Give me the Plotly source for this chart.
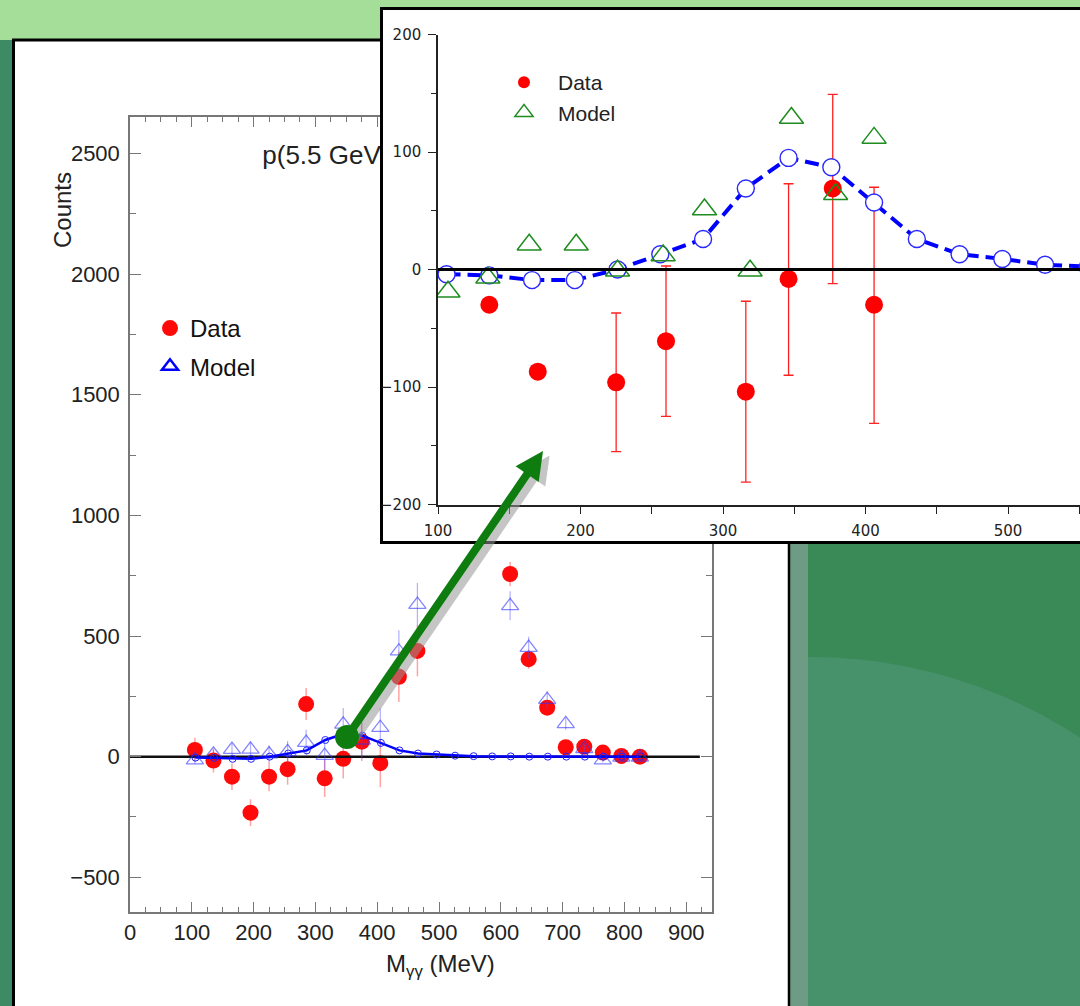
import plotly.graph_objects as go

W, H = 1080, 1006


def px(x):
    return x / W


def py(y):
    return 1 - y / H


# ---------------- main plot data (counts vs M_gg) ----------------
DATA_M = [105, 135, 165, 195, 225, 255, 285, 315, 345, 375, 405, 435, 465,
          615, 645, 675, 705, 735, 765, 795, 825]
DATA_C = [28, -16, -83, -232, -83, -52, 218, -90, -9, 62, -27, 331, 438,
          757, 404, 203, 39, 41, 17, 3, 0]
DATA_ERR = [50, 50, 55, 55, 60, 64, 66, 77, 82, 80, 100, 105, 105,
            50, 40, 30, 22, 20, 15, 10, 10]

MODEL_M = [105, 135, 165, 195, 225, 255, 285, 315, 345, 375, 405, 435, 465,
           615, 645, 675, 705, 735, 765, 795, 825]
MODEL_C = [-14, 10, 29, 30, 11, 20, 58, 4, 134, 68, 120, 437, 630,
           625, 452, 236, 136, 32, -14, -3, -3]
MODEL_ERR = [15, 20, 25, 30, 35, 45, 53, 60, 68, 75, 82, 87, 90,
             60, 45, 35, 25, 20, 10, 10, 10]

CURVE_M = [106, 136, 166, 196, 226, 256, 286, 316, 346, 376, 406, 436, 466,
           496, 526, 556, 586, 616, 646, 676, 706, 736, 766, 796, 826]
CURVE_C = [-4, -5, -9, -9, 0, 13, 26, 69, 95, 87, 57, 26, 13,
           9, 4, 2, 1, 1, 0, 0, 0, 0, 0, 0, 0]

ZERO_MAIN_X = [0, 922]
ZERO_INSET_X = [100, 560]
ZERO_Y = [0, 0]

# ---------------- inset data ----------------
IN_DATA_M = [136, 170, 225, 260, 316, 346, 377, 406]
IN_DATA_C = [-30, -87, -96, -61, -104, -8, 69, -30]
IN_ERR_PLUS = [0, 0, 59, 64, 77, 81, 80, 100]
IN_ERR_MINUS = [0, 0, 59, 64, 77, 82, 81, 101]

IN_MODEL_M = [107, 135, 164, 197, 226, 258, 287, 319, 348, 379, 406]
IN_MODEL_C = [-19, -7, 21, 21, -1, 12, 51, -1, 129, 64, 112]

MAIN_XTICKS = [0, 100, 200, 300, 400, 500, 600, 700, 800, 900]
MAIN_YTICKS = [-500, 0, 500, 1000, 1500, 2000, 2500]
IN_XTICKS = [100, 200, 300, 400, 500]
IN_YTICKS = [-200, -100, 0, 100, 200]

TITLE_TEXT = "p(5.5 GeV)"
TITLE_POS = ([214], [2481])

FONT = "Liberation Sans, Arial, sans-serif"

fig = go.Figure()

# ---------- main plot traces ----------
fig.add_trace(go.Scatter(
    x=TITLE_POS[0], y=TITLE_POS[1], mode="text", text=[TITLE_TEXT],
    textposition="middle right", textfont=dict(size=26, color="#222", family=FONT),
    showlegend=False, hoverinfo="skip", cliponaxis=False))
fig.add_trace(go.Scatter(
    x=DATA_M, y=DATA_C, mode="markers",
    marker=dict(color="#ff0a0a", size=16, line=dict(width=0)),
    error_y=dict(type="data", array=DATA_ERR, color="rgba(255,90,90,0.55)",
                 thickness=1.5, width=0),
    showlegend=False))
fig.add_trace(go.Scatter(
    x=ZERO_MAIN_X, y=ZERO_Y, mode="lines",
    line=dict(color="#111", width=2.5), showlegend=False, hoverinfo="skip"))
fig.add_trace(go.Scatter(
    x=MODEL_M, y=MODEL_C, mode="markers",
    marker=dict(symbol="triangle-up-open", color="rgba(50,50,255,0.6)", size=15,
                line=dict(width=1.3)),
    error_y=dict(type="data", array=MODEL_ERR, color="rgba(80,80,255,0.45)",
                 thickness=1.2, width=0),
    showlegend=False))
fig.add_trace(go.Scatter(
    x=CURVE_M, y=CURVE_C, mode="lines+markers",
    line=dict(color="#0000ff", width=2.5),
    marker=dict(symbol="circle-open", color="#2222ff", size=7, line=dict(width=1)),
    showlegend=False))

# ---------- panel subplot (x2/y2): white box with black frame ----------
fig.add_trace(go.Scatter(x=[None], y=[None], xaxis="x2", yaxis="y2",
                         showlegend=False, hoverinfo="skip"))

# ---------- inset traces ----------
fig.add_trace(go.Scatter(
    x=IN_DATA_M, y=IN_DATA_C, xaxis="x3", yaxis="y3", mode="markers",
    marker=dict(color="#ff0000", size=18),
    error_y=dict(type="data", symmetric=False, array=IN_ERR_PLUS,
                 arrayminus=IN_ERR_MINUS, color="#ff2020", thickness=1.3, width=5),
    showlegend=False))
fig.add_trace(go.Scatter(
    x=CURVE_M, y=CURVE_C, xaxis="x3", yaxis="y3", mode="lines+markers",
    line=dict(color="#0000ff", width=4, dash="14px,7px"),
    marker=dict(symbol="circle", color="white", size=17,
                line=dict(color="#2a2aff", width=1.4)),
    showlegend=False))
fig.add_trace(go.Scatter(
    x=IN_MODEL_M, y=IN_MODEL_C, xaxis="x3", yaxis="y3", mode="markers",
    marker=dict(symbol="triangle-up-open", color="#1e8c1e", size=21,
                line=dict(width=1.5)),
    showlegend=False))
fig.add_trace(go.Scatter(
    x=ZERO_INSET_X, y=ZERO_Y, xaxis="x3", yaxis="y3", mode="lines",
    line=dict(color="#000", width=3), showlegend=False, hoverinfo="skip"))

# ---------- legend entries ----------
fig.add_trace(go.Scatter(x=[None], y=[None], mode="markers", name="Data",
                         marker=dict(color="#ff0a0a", size=16), legend="legend",
                         legendgroup="a"))
fig.add_trace(go.Scatter(x=[None], y=[None], mode="markers", name="Model",
                         marker=dict(symbol="triangle-up-open", color="#0000ff", size=14,
                                     line=dict(width=2.5)),
                         legend="legend", legendgroup="b"))
fig.add_trace(go.Scatter(x=[None], y=[None], mode="markers", name="Data",
                         marker=dict(color="#ff0000", size=12), legend="legend2"))
fig.add_trace(go.Scatter(x=[None], y=[None], mode="markers", name="Model",
                         marker=dict(symbol="triangle-up-open", color="#1e8c1e", size=16,
                                     line=dict(width=1.4)),
                         legend="legend2"))

# ---------- background / decoration shapes ----------
shapes = [
    dict(type="rect", xref="paper", yref="paper", layer="below",
         x0=0, x1=1, y0=py(42), y1=1, fillcolor="#a4de98", line_width=0),
    dict(type="rect", xref="paper", yref="paper", layer="below",
         x0=0, x1=px(14), y0=0, y1=py(40), fillcolor="#3c8b64", line_width=0),
    dict(type="circle", xref="paper", yref="paper", layer="below",
         x0=px(317), x1=px(1303), y0=py(1643), y1=py(657),
         fillcolor="#47916b", line_width=0),
    dict(type="rect", xref="paper", yref="paper", layer="below",
         x0=px(789), x1=px(808), y0=0, y1=py(40), fillcolor="#6e9b83", line_width=0),
    dict(type="rect", xref="paper", yref="paper", layer="below",
         x0=px(14), x1=px(789), y0=0, y1=py(40), fillcolor="white", line_width=0),
    dict(type="line", xref="paper", yref="paper", layer="below",
         x0=px(13.5), x1=px(13.5), y0=0, y1=py(39), line=dict(color="black", width=3)),
    dict(type="line", xref="paper", yref="paper", layer="below",
         x0=px(12), x1=px(790), y0=py(40), y1=py(40), line=dict(color="black", width=3)),
    dict(type="line", xref="paper", yref="paper", layer="below",
         x0=px(789), x1=px(789), y0=0, y1=py(39), line=dict(color="black", width=2.5)),
]

# arrow
S = (347, 737)
T = (543, 451)
dx, dy = T[0] - S[0], T[1] - S[1]
L = (dx ** 2 + dy ** 2) ** 0.5
ux, uy = dx / L, dy / L
nx, ny = -uy, ux  # perpendicular (points to lower right)
HEAD_L, HEAD_W = 28, 14
B = (T[0] - HEAD_L * ux, T[1] - HEAD_L * uy)


def head_path(off):
    ox, oy = off
    c1 = (B[0] + HEAD_W * nx + ox, B[1] + HEAD_W * ny + oy)
    c2 = (B[0] - HEAD_W * nx + ox, B[1] - HEAD_W * ny + oy)
    t = (T[0] + ox, T[1] + oy)
    return "M {} {} L {} {} L {} {} Z".format(px(t[0]), py(t[1]), px(c1[0]), py(c1[1]),
                                             px(c2[0]), py(c2[1]))


SH = (8 * nx, 8 * ny)
shapes += [
    dict(type="line", xref="paper", yref="paper", layer="above",
         x0=px(S[0] + SH[0]), y0=py(S[1] + SH[1]), x1=px(B[0] + SH[0] + 4 * ux),
         y1=py(B[1] + SH[1] + 4 * uy), line=dict(color="rgba(150,150,150,0.55)", width=8)),
    dict(type="path", xref="paper", yref="paper", layer="above", path=head_path(SH),
         fillcolor="rgba(150,150,150,0.55)", line_width=0),
    dict(type="line", xref="paper", yref="paper", layer="above",
         x0=px(S[0]), y0=py(S[1]), x1=px(B[0] + 4 * ux), y1=py(B[1] + 4 * uy),
         line=dict(color="#0e7c0e", width=8)),
    dict(type="path", xref="paper", yref="paper", layer="above", path=head_path((0, 0)),
         fillcolor="#0e7c0e", line_width=0),
    dict(type="circle", xref="paper", yref="paper", layer="above",
         x0=px(S[0] - 12), x1=px(S[0] + 12), y0=py(S[1] + 12), y1=py(S[1] - 12),
         fillcolor="#0e7c0e", line_width=0),
]

main_axis_common = dict(showgrid=False, zeroline=False, showline=True, linecolor="#777",
                        linewidth=1.5, ticks="inside", ticklen=11, tickwidth=1.2,
                        tickcolor="#777", mirror="allticks", automargin=False,
                        tickfont=dict(family=FONT, size=22, color="#222"))

fig.update_layout(
    width=W, height=H, autosize=False,
    margin=dict(l=0, r=0, t=0, b=0, pad=0, autoexpand=False),
    paper_bgcolor="#3a8a58", plot_bgcolor="white",
    xaxis=dict(domain=[px(130), px(711.6)], range=[0, 941], anchor="y",
               tickvals=MAIN_XTICKS, ticklabelstandoff=0,
               minor=dict(dtick=25, ticklen=6, ticks="inside", tickcolor="#777"),
               **main_axis_common),
    yaxis=dict(domain=[py(912.3), py(116.7)], range=[-645, 2652], anchor="x",
               tickvals=MAIN_YTICKS, ticklabelstandoff=4,
               minor=dict(dtick=250, ticklen=6, ticks="inside", tickcolor="#777"),
               **main_axis_common),
    xaxis2=dict(domain=[px(383), 1.0], range=[0, 1], anchor="y2", showgrid=False,
                zeroline=False, showticklabels=False, ticks="", showline=True,
                linecolor="black", linewidth=3, mirror=True, automargin=False),
    yaxis2=dict(domain=[py(541), py(10)], range=[0, 1], anchor="x2", showgrid=False,
                zeroline=False, showticklabels=False, ticks="", showline=True,
                linecolor="black", linewidth=3, mirror=False, automargin=False),
    xaxis3=dict(domain=[px(438), 1.0], range=[100, 550.5], anchor="y3",
                showgrid=False, zeroline=False, showline=True, linecolor="#222",
                linewidth=1.5, ticks="outside", ticklen=8, tickcolor="#222",
                tickvals=IN_XTICKS, ticklabelstandoff=4, automargin=False,
                minor=dict(dtick=50, ticklen=8, ticks="outside", tickcolor="#222"),
                tickfont=dict(family="DejaVu Sans", size=15, color="#222")),
    yaxis3=dict(domain=[py(504.5), py(34.5)], range=[-200, 200], anchor="x3",
                showgrid=False, zeroline=False, showline=True, linecolor="#222",
                linewidth=1.5, ticks="outside", ticklen=8, tickcolor="#222",
                tickvals=IN_YTICKS, ticklabelstandoff=4, automargin=False,
                minor=dict(dtick=50, ticklen=5, ticks="outside", tickcolor="#222"),
                tickfont=dict(family="DejaVu Sans", size=15, color="#222")),
    legend=dict(x=px(150), y=py(306), xanchor="left", yanchor="top",
                bgcolor="rgba(0,0,0,0)", tracegroupgap=4,
                font=dict(family=FONT, size=24, color="#111")),
    legend2=dict(x=px(490), y=py(62), xanchor="left", yanchor="top",
                 bgcolor="rgba(0,0,0,0)", tracegroupgap=0, itemwidth=58,
                 font=dict(family=FONT, size=21, color="#222")),
    shapes=shapes,
    annotations=[
        dict(text="Counts", xref="paper", yref="paper", x=px(62), y=py(210),
             xanchor="center", yanchor="middle",
             showarrow=False, textangle=-90, font=dict(family=FONT, size=24, color="#222")),
        dict(text="M<sub>γγ</sub> (MeV)", xref="paper", yref="paper", x=px(440),
             y=py(965), xanchor="center", yanchor="middle",
             showarrow=False, font=dict(family=FONT, size=24, color="#222")),
    ],
)

fig.write_html("out.html",
               post_script="document.body.style.margin='0px';"
                           "document.body.style.overflow='hidden';")
